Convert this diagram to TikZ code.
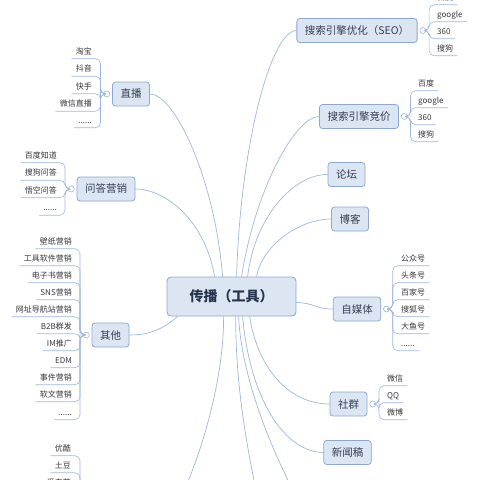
\documentclass[tikz,border=0pt]{standalone}
\usepackage{fontspec}
\newfontfamily\cjk{Noto Sans CJK SC}
\usepackage{tikz}
\definecolor{topicfill}{RGB}{220,230,243}
\definecolor{topicline}{RGB}{140,168,208}
\definecolor{linkblue}{RGB}{158,183,220}
\definecolor{hubtext}{RGB}{38,52,78}
\definecolor{topictext}{RGB}{52,62,82}
\definecolor{leaftext}{RGB}{55,55,60}
\usetikzlibrary{positioning}
\tikzset{
    hub/.style = {draw=topicline, fill=topicfill, line width=0.8pt, rounded corners=4pt, minimum width=129pt, minimum height=39pt, text=hubtext, font=\cjk\bfseries\fontsize{14}{16}\selectfont},
    topic/.style = {draw=topicline, fill=topicfill, line width=0.8pt, rounded corners=3pt, minimum height=24pt, inner xsep=8pt, text=topictext, font=\cjk\fontsize{10.5}{12}\selectfont},
    leaf/.style = {inner xsep=4pt, inner ysep=2.5pt, text height=6pt, text depth=2pt, text=leaftext, font=\cjk\fontsize{8}{10}\selectfont},
    fold/.style = {circle, draw=linkblue, fill=white, line width=0.6pt, minimum size=6pt, inner sep=0pt},
    branch/.style = {draw=linkblue, line width=0.7pt},
    twig/.style = {draw=linkblue, line width=0.6pt, rounded corners=5pt}
}

\begin{document}
\begin{tikzpicture}[line cap=round,line join=round,x=1pt,y=-1pt]
\path[use as bounding box, clip] (0,0) rectangle (480,480);

\node[hub] (hub) at (231.5,296.5) {传播（工具）};

\node[topic] (seo) at (357,30.5) {搜索引擎优化（SEO）};
\node[topic] (sem) at (359,116.5) {搜索引擎竞价};
\node[topic] (luntan) at (346.5,174.5) {论坛};
\node[topic] (boke) at (350,219) {博客};
\node[topic] (zimeiti) at (357,309) {自媒体};
\node[topic] (shequn) at (348.5,404) {社群};
\node[topic] (xinwen) at (347.5,452.5) {新闻稿};
\node[topic] (zhibo) at (131,94) {直播};
\node[topic] (wenda) at (106,189) {问答营销};
\node[topic] (qita) at (110.5,335) {其他};

\coordinate (videofold) at (83,520);
\coordinate (offa) at (160,540);
\coordinate (offb) at (262,520);
\coordinate (offc) at (310,520);

\draw[branch] ([xshift=56pt]hub.north west) .. controls (215,180) and (175,94) .. (zhibo.east);
\draw[branch] ([xshift=48pt]hub.north west) .. controls (205,220) and (165,189) .. (wenda.east);
\draw[branch] ([xshift=70pt]hub.north west) .. controls (240,150) and (270,31) .. (seo.west);
\draw[branch] ([xshift=75pt]hub.north west) .. controls (255,190) and (295,117) .. (sem.west);
\draw[branch] ([xshift=81pt]hub.north west) .. controls (255,215) and (295,174) .. (luntan.west);
\draw[branch] ([xshift=90pt]hub.north west) .. controls (262,245) and (300,219) .. (boke.west);
\draw[branch] ([yshift=-6pt]hub.east) .. controls (315,303) and (315,309) .. (zimeiti.west);
\draw[branch] ([xshift=83pt]hub.south west) .. controls (258,370) and (290,404) .. (shequn.west);
\draw[branch] ([xshift=76pt]hub.south west) .. controls (250,400) and (285,452) .. (xinwen.west);
\draw[branch] ([xshift=11pt]hub.south west) .. controls (160,332) and (145,335) .. (qita.east);
\draw[branch] ([xshift=57pt]hub.south west) .. controls (224,380) and (200,470) .. (offa);
\draw[branch] ([xshift=69pt]hub.south west) .. controls (236,400) and (250,460) .. (offb);
\draw[branch] ([xshift=72pt]hub.south west) .. controls (242,390) and (285,480) .. (offc);

\node[fold, right=2pt of seo] (seofold) {};
\node[fold, right=2pt of sem] (semfold) {};
\node[fold, right=2pt of zimeiti] (zmtfold) {};
\node[fold, right=2pt of shequn] (sqfold) {};
\node[fold, left=2pt of zhibo] (zbfold) {};
\node[fold, left=2pt of wenda] (wdfold) {};
\node[fold, left=2pt of qita] (qtfold) {};

\node[leaf, anchor=west] (seo1) at (433,-2) {百度};
\node[leaf, anchor=west] (seo2) at (433,15) {google};
\node[leaf, anchor=west] (seo3) at (433,32) {360};
\node[leaf, anchor=west] (seo4) at (433,49) {搜狗};
\draw[twig] (seofold.east) -- ++(3,0) |- (seo1.south east);
\draw[twig] (seofold.east) -- ++(3,0) |- (seo2.south east);
\draw[twig] (seofold.east) -- ++(3,0) |- (seo3.south east);
\draw[twig] (seofold.east) -- ++(3,0) |- (seo4.south east);

\node[leaf, anchor=west] (sem1) at (414,84) {百度};
\node[leaf, anchor=west] (sem2) at (414,101) {google};
\node[leaf, anchor=west] (sem3) at (414,118) {360};
\node[leaf, anchor=west] (sem4) at (414,135) {搜狗};
\draw[twig] (semfold.east) -- ++(3,0) |- (sem1.south east);
\draw[twig] (semfold.east) -- ++(3,0) |- (sem2.south east);
\draw[twig] (semfold.east) -- ++(3,0) |- (sem3.south east);
\draw[twig] (semfold.east) -- ++(3,0) |- (sem4.south east);

\node[leaf, anchor=west] (zmt1) at (397,259) {公众号};
\node[leaf, anchor=west] (zmt2) at (397,276) {头条号};
\node[leaf, anchor=west] (zmt3) at (397,293) {百家号};
\node[leaf, anchor=west] (zmt4) at (397,310) {搜狐号};
\node[leaf, anchor=west] (zmt5) at (397,327) {大鱼号};
\node[leaf, anchor=west] (zmt6) at (397,344) {......};
\draw[twig] (zmtfold.east) -- ++(3,0) |- (zmt1.south east);
\draw[twig] (zmtfold.east) -- ++(3,0) |- (zmt2.south east);
\draw[twig] (zmtfold.east) -- ++(3,0) |- (zmt3.south east);
\draw[twig] (zmtfold.east) -- ++(3,0) |- (zmt4.south east);
\draw[twig] (zmtfold.east) -- ++(3,0) |- (zmt5.south east);
\draw[twig] (zmtfold.east) -- ++(3,0) |- (zmt6.south east);

\node[leaf, anchor=west] (sq1) at (383,379) {微信};
\node[leaf, anchor=west] (sq2) at (383,396) {QQ};
\node[leaf, anchor=west] (sq3) at (383,413) {微博};
\draw[twig] (sqfold.east) -- ++(3,0) |- (sq1.south east);
\draw[twig] (sqfold.east) -- ++(3,0) |- (sq2.south east);
\draw[twig] (sqfold.east) -- ++(3,0) |- (sq3.south east);

\node[leaf, anchor=east] (zb1) at (96,52) {淘宝};
\node[leaf, anchor=east] (zb2) at (96,69.5) {抖音};
\node[leaf, anchor=east] (zb3) at (96,87) {快手};
\node[leaf, anchor=east] (zb4) at (96,104.5) {微信直播};
\node[leaf, anchor=east] (zb5) at (96,121) {......};
\draw[twig] (zbfold.west) -- ++(-3,0) |- (zb1.south west);
\draw[twig] (zbfold.west) -- ++(-3,0) |- (zb2.south west);
\draw[twig] (zbfold.west) -- ++(-3,0) |- (zb3.south west);
\draw[twig] (zbfold.west) -- ++(-3,0) |- (zb4.south west);
\draw[twig] (zbfold.west) -- ++(-3,0) |- (zb5.south west);

\node[leaf, anchor=east] (wd1) at (61,156) {百度知道};
\node[leaf, anchor=east] (wd2) at (61,173.5) {搜狗问答};
\node[leaf, anchor=east] (wd3) at (61,191) {悟空问答};
\node[leaf, anchor=east] (wd4) at (61,208.5) {......};
\draw[twig] (wdfold.west) -- ++(-3,0) |- (wd1.south west);
\draw[twig] (wdfold.west) -- ++(-3,0) |- (wd2.south west);
\draw[twig] (wdfold.west) -- ++(-3,0) |- (wd3.south west);
\draw[twig] (wdfold.west) -- ++(-3,0) |- (wd4.south west);

\node[leaf, anchor=east] (qt1) at (76,242) {壁纸营销};
\node[leaf, anchor=east] (qt2) at (76,259) {工具软件营销};
\node[leaf, anchor=east] (qt3) at (76,276) {电子书营销};
\node[leaf, anchor=east] (qt4) at (76,293) {SNS营销};
\node[leaf, anchor=east] (qt5) at (76,310) {网址导航站营销};
\node[leaf, anchor=east] (qt6) at (76,327) {B2B群发};
\node[leaf, anchor=east] (qt7) at (76,344) {IM推广};
\node[leaf, anchor=east] (qt8) at (76,361) {EDM};
\node[leaf, anchor=east] (qt9) at (76,378) {事件营销};
\node[leaf, anchor=east] (qt10) at (76,395) {软文营销};
\node[leaf, anchor=east] (qt11) at (76,413) {......};
\draw[twig] (qtfold.west) -- ++(-3,0) |- (qt1.south west);
\draw[twig] (qtfold.west) -- ++(-3,0) |- (qt2.south west);
\draw[twig] (qtfold.west) -- ++(-3,0) |- (qt3.south west);
\draw[twig] (qtfold.west) -- ++(-3,0) |- (qt4.south west);
\draw[twig] (qtfold.west) -- ++(-3,0) |- (qt5.south west);
\draw[twig] (qtfold.west) -- ++(-3,0) |- (qt6.south west);
\draw[twig] (qtfold.west) -- ++(-3,0) |- (qt7.south west);
\draw[twig] (qtfold.west) -- ++(-3,0) |- (qt8.south west);
\draw[twig] (qtfold.west) -- ++(-3,0) |- (qt9.south west);
\draw[twig] (qtfold.west) -- ++(-3,0) |- (qt10.south west);
\draw[twig] (qtfold.west) -- ++(-3,0) |- (qt11.south west);

\node[leaf, anchor=east] (sp1) at (75,449) {优酷};
\node[leaf, anchor=east] (sp2) at (75,466) {土豆};
\node[leaf, anchor=east] (sp3) at (75,483) {爱奇艺};
\draw[twig] (videofold) -- ++(-3,0) |- (sp1.south west);
\draw[twig] (videofold) -- ++(-3,0) |- (sp2.south west);
\draw[twig] (videofold) -- ++(-3,0) |- (sp3.south west);
\end{tikzpicture}
\end{document}
